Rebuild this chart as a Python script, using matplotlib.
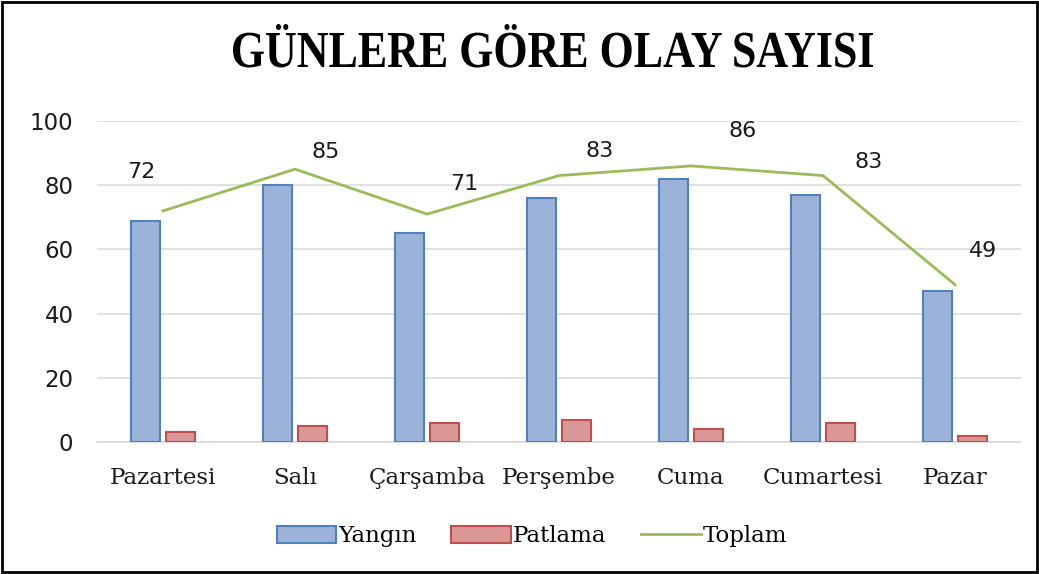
import matplotlib.pyplot as plt
import numpy as np
from matplotlib.patches import Rectangle, PathPatch
from matplotlib.textpath import TextPath
from matplotlib.font_manager import FontProperties
from matplotlib.transforms import Affine2D

gunler = ["Pazartesi", "Salı", "Çarşamba", "Perşembe", "Cuma", "Cumartesi", "Pazar"]
yangin = [69, 80, 65, 76, 82, 77, 47]
patlama = [3, 5, 6, 7, 4, 6, 2]
toplam = [72, 85, 71, 83, 86, 83, 49]
baslik = "GÜNLERE GÖRE OLAY SAYISI"

# label offsets (points) for the Toplam values
etiket_ofset = [(-16, 28), (22, 12), (27, 22), (29, 18), (37, 25), (33, 10), (20, 24)]

plt.rcParams['font.family'] = ['DejaVu Serif']

fig = plt.figure(figsize=(10.39, 5.74), dpi=100)
ax = fig.add_axes([0.0934, 0.2300, 0.8893, 0.5592])

x = np.arange(len(gunler))
w = 0.22
b1 = ax.bar(x - 0.13, yangin, w, color="#9CB3D9", edgecolor="#4F81BD", linewidth=1.5, label="Yangın", zorder=3)
b2 = ax.bar(x + 0.13, patlama, w, color="#D99896", edgecolor="#C0504D", linewidth=1.5, label="Patlama", zorder=3)
l1, = ax.plot(x, toplam, color="#9BBB59", linewidth=2, label="Toplam", zorder=4)

for i, v in enumerate(toplam):
    ax.annotate(str(v), (x[i], v), xytext=etiket_ofset[i], textcoords="offset points",
                ha="center", va="center", fontsize=16, family="DejaVu Sans", color="#1a1a1a")

ax.set_xlim(-0.5, len(gunler) - 0.5)
ax.set_ylim(0, 100)
ax.set_yticks([0, 20, 40, 60, 80, 100])
ax.set_xticks(x)
ax.set_xticklabels(gunler)
ax.tick_params(axis="y", length=0, pad=17, labelsize=16.5, labelcolor="#1a1a1a")
ax.tick_params(axis="x", length=0, pad=18, labelsize=16.5, labelcolor="#1a1a1a")
for lab in ax.get_yticklabels():
    lab.set_family("DejaVu Sans")
ax.grid(axis="y", color="#DDDDDD", linewidth=1.2, zorder=0)
for s in ["top", "right", "left"]:
    ax.spines[s].set_visible(False)
ax.spines["bottom"].set_color("#D9D9D9")
ax.spines["bottom"].set_linewidth(1.2)

# condensed bold title drawn as a path
fp = FontProperties(family="Liberation Serif", weight="bold")
tp = TextPath((0, 0), baslik, size=40, prop=fp)
ext = tp.get_extents()
cap = TextPath((0, 0), "E", size=40, prop=fp).get_extents().height
sx = 640 / ext.width
sy = 34 / cap
tr = Affine2D().translate(-ext.x0, 0).scale(sx, sy).translate(233, 574 - 67).scale(1 / 100) + fig.dpi_scale_trans
fig.patches.append(PathPatch(tp, transform=tr, facecolor="black", edgecolor="none"))

fig.legend([b1, b2, l1], ["Yangın", "Patlama", "Toplam"], loc="center",
           bbox_to_anchor=(0.512, 0.066), ncol=3, frameon=False,
           fontsize=16.5, handlelength=2.6, handleheight=0.75, columnspacing=1.5, handletextpad=0.1)

fig.patches.append(Rectangle((0.002, 0.003), 0.996, 0.994, transform=fig.transFigure,
                             fill=False, edgecolor="black", linewidth=2))

plt.savefig("out.png", dpi=100)
